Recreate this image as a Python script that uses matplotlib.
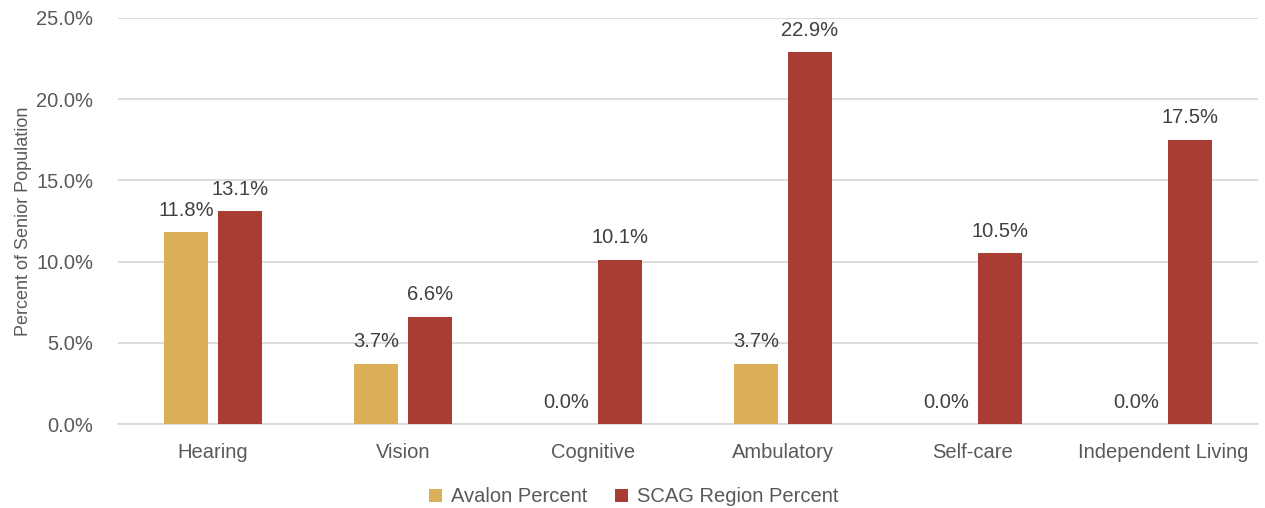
import numpy as np
import matplotlib.pyplot as plt
from matplotlib.ticker import FuncFormatter

categories = ["Hearing", "Vision", "Cognitive", "Ambulatory", "Self-care", "Independent Living"]
avalon = [11.8, 3.7, 0.0, 3.7, 0.0, 0.0]
scag = [13.1, 6.6, 10.1, 22.9, 10.5, 17.5]
series_names = ["Avalon Percent", "SCAG Region Percent"]

plt.rcParams['font.family'] = ['Liberation Sans', 'DejaVu Sans']
text_color = '#595959'
fs = 14.5

fig = plt.figure(figsize=(12.65, 5.08), dpi=100)
ax = fig.add_axes([118 / 1265, 1 - 424 / 508, 1140 / 1265, 406 / 508])

x = np.arange(len(categories))
width = 0.227
off = 0.142
b1 = ax.bar(x - off, avalon, width, color='#DBAE58', label=series_names[0], zorder=3)
b2 = ax.bar(x + off, scag, width, color='#A93D33', label=series_names[1], zorder=3)

for bars, vals in [(b1, avalon), (b2, scag)]:
    for rect, v in zip(bars, vals):
        ax.annotate(f"{v:.1f}%", (rect.get_x() + rect.get_width() / 2, v),
                    xytext=(0, 9), textcoords='offset points',
                    ha='center', va='bottom', fontsize=fs, color='#404040')

ax.set_xlim(-0.5, len(categories) - 0.5)
ax.set_ylim(0, 25)
ax.set_yticks(np.arange(0, 25.1, 5))
ax.yaxis.set_major_formatter(FuncFormatter(lambda v, p: f"{v:.1f}%"))
ax.set_xticks(x)
ax.set_xticklabels(categories)
ax.tick_params(axis='both', length=0, labelsize=fs, colors=text_color)
ax.tick_params(axis='x', pad=14)
ax.tick_params(axis='y', pad=18)
ax.grid(axis='y', color='#D9D9D9', linewidth=1.3, zorder=0)
for s in ['top', 'right', 'left']:
    ax.spines[s].set_visible(False)
ax.spines['bottom'].set_color('#D9D9D9')
ax.spines['bottom'].set_linewidth(1.3)

ax.set_ylabel("Percent of Senior Population", fontsize=13, color=text_color, labelpad=3)

fig.legend(loc='center', bbox_to_anchor=(634 / 1265, 1 - 497 / 508), ncol=2, frameon=False,
           fontsize=fs, labelcolor=text_color, handlelength=0.65, handleheight=0.65,
           columnspacing=1.35, handletextpad=0.45)

plt.savefig('out.png', dpi=100)
